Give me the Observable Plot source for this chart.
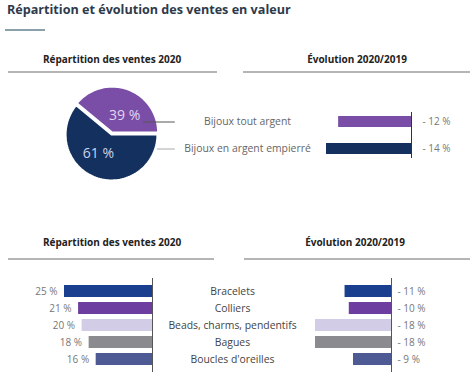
<!DOCTYPE html>
<html><head><meta charset="utf-8">
<script src="https://cdn.jsdelivr.net/npm/d3@7"></script>
<script src="https://cdn.jsdelivr.net/npm/@observablehq/plot@0.6"></script>
<style>
body{margin:0;background:#fff;font-family:"Open Sans",sans-serif;}
#chart{position:relative;width:474px;height:380px;overflow:hidden;background:#fff;}
.abs{position:absolute;}
.title{left:7px;top:3px;font-size:12.6px;font-weight:700;color:#2d3a4b;line-height:13px;white-space:nowrap;}
.rule{height:1.5px;background:#b5b5b5;}
.head{font-size:10px;font-weight:700;color:#222;line-height:10px;text-align:center;white-space:nowrap;width:200px;}
</style></head><body><div id="chart"></div>
<script>
// ---- data ----
const pieCategories = ["Bijoux tout argent", "Bijoux en argent empierré"];
const pieShares = [39, 61];
const pieEvolution = [-12, -14];

const productCategories = ["Bracelets", "Colliers", "Beads, charms, pendentifs", "Bagues", "Boucles d'oreilles"];
const productShares = [25, 21, 20, 18, 16];
const productEvolution = [-11, -10, -18, -18, -9];

const titleText = "Répartition et évolution des ventes en valeur";
const headShare = "Répartition des ventes 2020";
const headEvol = "Évolution 2020/2019";

// ---- styles ----
const topColors = ["#7a4ea6", "#13305f"];
const productColors = ["#1b3f8f", "#6d3e9f", "#d2cce6", "#8b8a8f", "#4e5a93"];
const font = "'Open Sans', sans-serif";

const chart = document.getElementById("chart");
function addDiv(cls, css, text) {
  const d = document.createElement("div");
  d.className = "abs " + cls;
  Object.assign(d.style, css);
  if (text != null) d.textContent = text;
  chart.appendChild(d);
  return d;
}
function place(svg, left, top) {
  const d = addDiv("", {left: left + "px", top: top + "px"});
  d.appendChild(svg);
}

addDiv("title", {}, titleText);
addDiv("", {left: "5px", top: "29px", width: "40px", height: "1.5px", background: "#8aa0aa"});

addDiv("head", {left: "12px", top: "54px"}, headShare);
addDiv("head", {left: "257px", top: "54px"}, headEvol);
addDiv("rule", {left: "8px", top: "71px", width: "209px"});
addDiv("rule", {left: "243px", top: "71px", width: "227px"});

addDiv("head", {left: "12px", top: "237px"}, headShare);
addDiv("head", {left: "255px", top: "237px"}, headEvol);
addDiv("rule", {left: "8px", top: "258px", width: "206px"});
addDiv("rule", {left: "244px", top: "258px", width: "226px"});

const fmtEvol = v => `- ${Math.abs(v)} %`;
const fmtShare = v => `${v} %`;
const baseStyle = {background: "transparent", overflow: "visible", fontFamily: font};

// ---- pie ----
const deg = Math.PI / 180;
const arcs = d3.pie().sort(null).startAngle(-50.4 * deg).endAngle(309.6 * deg)(pieShares);
function slicePoints(a, off) {
  const mid = (a.startAngle + a.endAngle) / 2;
  const ox = off * Math.sin(mid), oy = off * Math.cos(mid);
  const pts = [{x: ox, y: oy}];
  const n = 80;
  for (let k = 0; k <= n; k++) {
    const t = a.startAngle + (a.endAngle - a.startAngle) * k / n;
    pts.push({x: ox + Math.sin(t), y: oy + Math.cos(t)});
  }
  return pts;
}
const pieLabels = arcs.map((a, i) => {
  const t = (a.startAngle + a.endAngle) / 2 + 15 * deg;
  return {x: 0.5 * Math.sin(t), y: 0.5 * Math.cos(t), text: fmtShare(pieShares[i]), i};
});
const pieLabelColors = ["#e2d6f2", "#c9d4ec"];
const pie = Plot.plot({
  width: 130, height: 112, margin: 0,
  x: {domain: [-1.22, 1.612], axis: null},
  y: {domain: [-1.22, 1.22], axis: null},
  style: baseStyle,
  marks: [
    Plot.line(slicePoints(arcs[1], 0), {x: "x", y: "y", fill: topColors[1], stroke: "white", strokeWidth: 2, curve: "linear-closed"}),
    Plot.line(slicePoints(arcs[0], 0.045), {x: "x", y: "y", fill: topColors[0], stroke: "white", strokeWidth: 2, curve: "linear-closed"}),
    Plot.text(pieLabels, {x: "x", y: "y", text: "text", fill: d => pieLabelColors[d.i], fontSize: 14}),
    Plot.ruleY([0.272], {x1: 0.70, x2: 1.39, stroke: "#555", strokeWidth: 1}),
    Plot.ruleY([-0.316], {x1: 1.0, x2: 1.39, stroke: "#aaa", strokeWidth: 1})
  ]
});
place(pie, 55, 78);

// ---- top evolution bars ----
const topData = pieCategories.map((c, i) => ({cat: c, evol: pieEvolution[i]}));
const topBars = Plot.plot({
  width: 334, height: 70, marginTop: 12, marginBottom: 12, marginLeft: 186, marginRight: 63,
  x: {domain: [-14, 0], axis: null},
  y: {domain: pieCategories, axis: null, paddingInner: 0.59, paddingOuter: 0.145},
  color: {domain: pieCategories, range: topColors},
  style: baseStyle,
  marks: [
    Plot.barX(topData, {x: "evol", y: "cat", fill: "cat"}),
    Plot.ruleX([0], {stroke: "#333", strokeWidth: 1}),
    Plot.text(topData, {x: 0, y: "cat", text: d => fmtEvol(d.evol), dx: 11, textAnchor: "start", fill: "#777", fontSize: 10}),
    Plot.text(topData, {y: "cat", text: "cat", frameAnchor: "left", dx: -79, textAnchor: "middle", fill: "#666", fontSize: 10.4})
  ]
});
place(topBars, 140, 100);

// ---- bottom share bars ----
const prodData = productCategories.map((c, i) => ({cat: c, share: productShares[i], evol: productEvolution[i]}));
const yBottom = {domain: productCategories, axis: null, paddingInner: 0.32, paddingOuter: 0.315};
const colorBottom = {domain: productCategories, range: productColors};
const shareBars = Plot.plot({
  width: 320, height: 114, marginTop: 12, marginBottom: 8, marginLeft: 64, marginRight: 168,
  x: {domain: [0, 25], reverse: true, axis: null},
  y: yBottom, color: colorBottom,
  style: baseStyle,
  marks: [
    Plot.barX(prodData, {x: "share", y: "cat", fill: "cat"}),
    Plot.ruleX([0], {stroke: "#555", strokeWidth: 1}),
    Plot.text(prodData, {x: "share", y: "cat", text: d => fmtShare(d.share), dx: -7, textAnchor: "end", fill: "#777", fontSize: 10}),
    Plot.text(prodData, {y: "cat", text: "cat", frameAnchor: "right", dx: 80, textAnchor: "middle", fill: "#444", fontSize: 10.4})
  ]
});
place(shareBars, 0, 266);

// ---- bottom evolution bars ----
const evolBars = Plot.plot({
  width: 174, height: 114, marginTop: 12, marginBottom: 8, marginLeft: 15, marginRight: 83,
  x: {domain: [-18, 0], axis: null},
  y: yBottom, color: colorBottom,
  style: baseStyle,
  marks: [
    Plot.barX(prodData, {x: "evol", y: "cat", fill: "cat"}),
    Plot.ruleX([0], {stroke: "#555", strokeWidth: 1}),
    Plot.text(prodData, {x: 0, y: "cat", text: d => fmtEvol(d.evol), dx: 6, textAnchor: "start", fill: "#777", fontSize: 10})
  ]
});
place(evolBars, 300, 266);
</script></body></html>
